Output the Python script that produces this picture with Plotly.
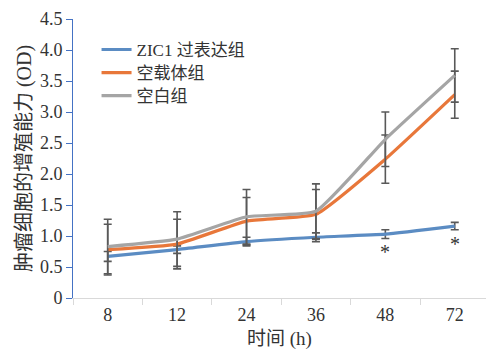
import plotly.graph_objects as go

# Time points (h) and OD readings for each group
hours = ["8", "12", "24", "36", "48", "72"]
zic1_od = [0.67, 0.78, 0.91, 0.98, 1.03, 1.16]
zic1_err = [0.08, 0.06, 0.07, 0.07, 0.07, 0.06]
vector_od = [0.78, 0.87, 1.24, 1.35, 2.24, 3.28]
vector_err = [0.41, 0.40, 0.38, 0.40, 0.39, 0.38]
blank_od = [0.83, 0.95, 1.31, 1.40, 2.56, 3.59]
blank_err = [0.44, 0.44, 0.44, 0.44, 0.44, 0.43]
significant = ["48", "72"]

y_ticks = [0, 0.5, 1.0, 1.5, 2.0, 2.5, 3.0, 3.5, 4.0, 4.5]
y_ticktext = ["0", "0.5", "1.0", "1.5", "2.0", "2.5", "3.0", "3.5", "4.0", "4.5"]

FONT = "Times New Roman, Liberation Serif, DejaVu Serif, Noto Sans CJK SC, serif"
TEXT = "#333333"
ERR_COLOR = "#595959"

series = [
    ("ZIC1 过表达组", zic1_od, zic1_err, "#5B8CC3", "legend"),
    ("空载体组", vector_od, vector_err, "#E8773A", "legend2"),
    ("空白组", blank_od, blank_err, "#A5A5A5", "legend3"),
]

fig = go.Figure()
for name, vals, errs, color, leg in series:
    fig.add_trace(go.Scatter(
        x=hours, y=vals, name=name, mode="lines", legend=leg,
        line=dict(color=color, width=3.2, shape="spline", smoothing=0.4),
        error_y=dict(type="data", array=errs, visible=True,
                     color=ERR_COLOR, thickness=1.6, width=4),
    ))

# Significance markers below the ZIC1 curve (x given as category index)
for h in significant:
    i = hours.index(h)
    fig.add_annotation(x=i, y=zic1_od[i], xref="x", yref="y", text="*",
                       showarrow=False, yanchor="middle", yshift=-18,
                       font=dict(family=FONT, size=20, color=TEXT))

legend_style = dict(x=0.057, xanchor="left", yanchor="middle",
                    bgcolor="rgba(0,0,0,0)",
                    font=dict(family=FONT, size=17, color=TEXT))

fig.update_layout(
    width=486, height=353,
    margin=dict(l=73, r=0, t=19, b=55),
    paper_bgcolor="white", plot_bgcolor="white",
    font=dict(family=FONT, size=18, color=TEXT),
    showlegend=True,
    legend=dict(y=0.889, **legend_style),
    legend2=dict(y=0.806, **legend_style),
    legend3=dict(y=0.724, **legend_style),
    xaxis=dict(
        type="category", range=[-0.5, 5.45],
        showline=True, linecolor="#D9D9D9", linewidth=1,
        ticks="outside", tickson="boundaries", ticklen=6, tickcolor="#D9D9D9",
        showgrid=False, zeroline=False,
        tickfont=dict(family=FONT, size=18, color=TEXT),
        title=dict(text="时间 (h)", font=dict(family=FONT, size=19, color=TEXT),
                   standoff=8),
    ),
    yaxis=dict(
        range=[0, 4.5], tickvals=y_ticks, ticktext=y_ticktext,
        showline=True, linecolor="#4472C4", linewidth=1,
        ticks="outside", ticklen=6, tickcolor="#4472C4",
        showgrid=False, zeroline=False,
        tickfont=dict(family=FONT, size=18, color=TEXT),
        title=dict(text="肿瘤细胞的增殖能力 (OD)",
                   font=dict(family=FONT, size=20, color=TEXT), standoff=2),
    ),
)

fig.write_html("out.html")
